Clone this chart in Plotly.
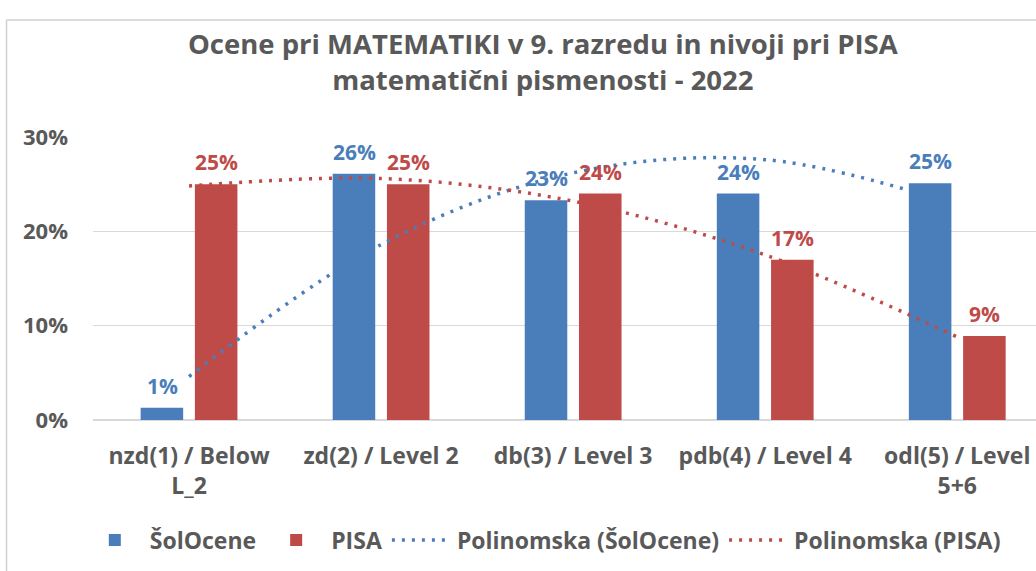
import plotly.graph_objects as go

categories = ["nzd(1) / Below<br>L_2", "zd(2) / Level 2", "db(3) / Level 3",
              "pdb(4) / Level 4", "odl(5) / Level<br>5+6"]
sol_ocene = [0.013, 0.261, 0.233, 0.240, 0.251]
pisa = [0.250, 0.250, 0.240, 0.170, 0.089]
# trendline values read at each category centre
trend_sol = [0.046, 0.186, 0.262, 0.276, 0.228]
trend_pisa = [0.248, 0.256, 0.232, 0.175, 0.088]
y_ticks = [0, 0.1, 0.2, 0.3]

BLUE = "#4a7ebb"
RED = "#be4b48"
GRAY = "#595959"
FONT = "Open Sans"

fig = go.Figure()
fig.add_trace(go.Bar(x=categories, y=sol_ocene, name="ŠolOcene",
                     marker=dict(color=BLUE, line=dict(width=0))))
fig.add_trace(go.Bar(x=categories, y=pisa, name="PISA",
                     marker=dict(color=RED, line=dict(width=0))))
fig.add_trace(go.Scatter(x=categories, y=trend_sol, name="Polinomska (ŠolOcene)",
                         mode="lines", line=dict(color=BLUE, width=3.5, dash="3px,7px", shape="spline")))
fig.add_trace(go.Scatter(x=categories, y=trend_pisa, name="Polinomska (PISA)",
                         mode="lines", line=dict(color=RED, width=3.5, dash="3px,7px", shape="spline")))

# data labels above each bar
annotations = []
for series, color, shift in ((sol_ocene, BLUE, -27), (pisa, RED, 27)):
    for cat, v in zip(categories, series):
        annotations.append(dict(x=cat, y=v, xref="x", yref="y", text=f"{v:.0%}",
                                showarrow=False, xshift=shift, yshift=22, yanchor="middle",
                                font=dict(size=21, family=FONT, color=color, weight="bold")))

fig.update_layout(
    width=1036, height=571,
    margin=dict(l=93, r=0, t=137, b=151),
    paper_bgcolor="white", plot_bgcolor="white",
    font=dict(family=FONT, color=GRAY),
    title=dict(text="Ocene pri MATEMATIKI v 9. razredu in nivoji pri PISA<br>matematični pismenosti - 2022",
               x=0.524, xanchor="center", y=0.905, yanchor="top",
               font=dict(size=27.5, family=FONT, color=GRAY, weight="bold")),
    barmode="group", bargap=0.435, bargroupgap=0.216,
    showlegend=True,
    legend=dict(orientation="h", x=0.477, xanchor="center", y=-0.424, yanchor="middle",
                font=dict(size=23, family=FONT, color=GRAY, weight="bold"),
                itemwidth=60, traceorder="normal"),
    annotations=annotations,
    shapes=[
        dict(type="line", xref="paper", yref="paper", x0=-0.0917, x1=-0.0917, y0=-0.7, y1=1.413,
             line=dict(color="#d0d0d0", width=1.5), layer="above"),
        dict(type="line", xref="paper", yref="paper", x0=-0.0917, x1=1.2, y0=1.413, y1=1.413,
             line=dict(color="#d0d0d0", width=1.5), layer="above"),
    ],
)
fig.update_xaxes(type="category", range=[-0.5, 4.41], showgrid=False, showline=False,
                 ticks="", tickfont=dict(size=23, family=FONT, color=GRAY, weight="bold"),
                 ticklabelstandoff=20, automargin=False)
fig.update_yaxes(range=[0, 0.30], tickvals=y_ticks, tickformat=".0%",
                 gridcolor="#d9d9d9", gridwidth=1, zeroline=True, zerolinecolor="#d9d9d9",
                 showline=False, ticks="",
                 tickfont=dict(size=22, family=FONT, color=GRAY, weight="bold"),
                 ticklabelstandoff=24, automargin=False)

fig.write_html("out.html", config={"displayModeBar": False},
               post_script="document.body.style.margin='0';")
